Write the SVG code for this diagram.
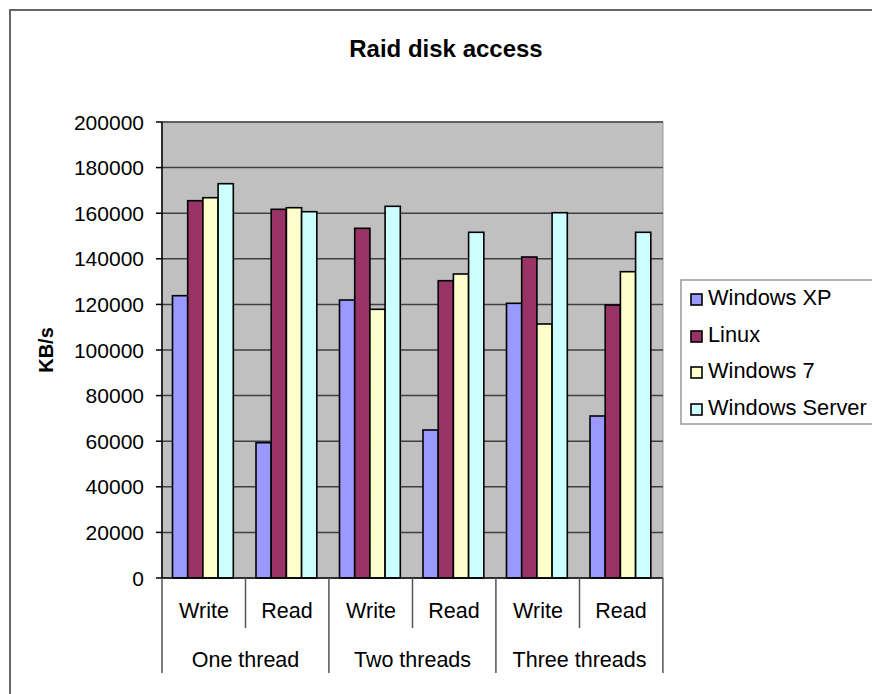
<svg xmlns="http://www.w3.org/2000/svg" width="872" height="694" viewBox="0 0 872 694">
<style>
text{font-family:"Liberation Sans",Arial,sans-serif;fill:#000}
.yl{font-size:21px;text-anchor:end}
.cl{font-size:21.5px;text-anchor:middle}
.lg{font-size:21.8px}
.grid{stroke:#404040;stroke-width:1.5}
.bar{stroke:#000;stroke-width:1.6}
.xp{fill:#9999FF}.lx{fill:#993366}.w7{fill:#FFFFCC}.sv{fill:#CCFFFF}
.tick{stroke:#555;stroke-width:1.5}
</style>
<rect x="0" y="0" width="872" height="694" fill="#fff"/>
<rect x="10" y="10" width="900" height="720" fill="#fff" stroke="#666" stroke-width="2"/>
<text id="title" x="446" y="57" font-size="24" font-weight="bold" text-anchor="middle">Raid disk access</text>
<g id="plot">
<rect x="162" y="122" width="501" height="456" fill="#C0C0C0" stroke="#999" stroke-width="1"/>
<g id="gridlines">
<line class="grid" x1="162" y1="122" x2="663" y2="122"/>
<line class="grid" x1="162" y1="167.6" x2="663" y2="167.6"/>
<line class="grid" x1="162" y1="213.2" x2="663" y2="213.2"/>
<line class="grid" x1="162" y1="258.8" x2="663" y2="258.8"/>
<line class="grid" x1="162" y1="304.4" x2="663" y2="304.4"/>
<line class="grid" x1="162" y1="350" x2="663" y2="350"/>
<line class="grid" x1="162" y1="395.6" x2="663" y2="395.6"/>
<line class="grid" x1="162" y1="441.2" x2="663" y2="441.2"/>
<line class="grid" x1="162" y1="486.8" x2="663" y2="486.8"/>
<line class="grid" x1="162" y1="532.4" x2="663" y2="532.4"/>
</g>
</g>
<g id="bars">
<g id="one-write">
<rect class="bar xp" x="172.5" y="295.7" width="15.2" height="282.3"/>
<rect class="bar lx" x="187.7" y="200.7" width="15.2" height="377.3"/>
<rect class="bar w7" x="202.9" y="197.7" width="15.2" height="380.3"/>
<rect class="bar sv" x="218.1" y="183.7" width="15.2" height="394.3"/>
</g>
<g id="one-read">
<rect class="bar xp" x="256" y="442.7" width="15.2" height="135.3"/>
<rect class="bar lx" x="271.2" y="209.3" width="15.2" height="368.7"/>
<rect class="bar w7" x="286.4" y="207.7" width="15.2" height="370.3"/>
<rect class="bar sv" x="301.6" y="211.7" width="15.2" height="366.3"/>
</g>
<g id="two-write">
<rect class="bar xp" x="339.5" y="300" width="15.2" height="278"/>
<rect class="bar lx" x="354.7" y="228.3" width="15.2" height="349.7"/>
<rect class="bar w7" x="369.9" y="309.3" width="15.2" height="268.7"/>
<rect class="bar sv" x="385.1" y="206.3" width="15.2" height="371.7"/>
</g>
<g id="two-read">
<rect class="bar xp" x="423" y="430" width="15.2" height="148"/>
<rect class="bar lx" x="438.2" y="280.7" width="15.2" height="297.3"/>
<rect class="bar w7" x="453.4" y="274" width="15.2" height="304"/>
<rect class="bar sv" x="468.6" y="232.3" width="15.2" height="345.7"/>
</g>
<g id="three-write">
<rect class="bar xp" x="506.5" y="303.3" width="15.2" height="274.7"/>
<rect class="bar lx" x="521.7" y="257" width="15.2" height="321"/>
<rect class="bar w7" x="536.9" y="324" width="15.2" height="254"/>
<rect class="bar sv" x="552.1" y="212.7" width="15.2" height="365.3"/>
</g>
<g id="three-read">
<rect class="bar xp" x="590" y="416" width="15.2" height="162"/>
<rect class="bar lx" x="605.2" y="305" width="15.2" height="273"/>
<rect class="bar w7" x="620.4" y="271.7" width="15.2" height="306.3"/>
<rect class="bar sv" x="635.6" y="232.3" width="15.2" height="345.7"/>
</g>
</g>
<g id="axes">
<line x1="162" y1="122" x2="162" y2="578" stroke="#000" stroke-width="1.5"/>
<line x1="156" y1="578" x2="663" y2="578" stroke="#000" stroke-width="1.5"/>
<g stroke="#000" stroke-width="1.5">
<line x1="156" y1="122" x2="162" y2="122"/>
<line x1="156" y1="167.6" x2="162" y2="167.6"/>
<line x1="156" y1="213.2" x2="162" y2="213.2"/>
<line x1="156" y1="258.8" x2="162" y2="258.8"/>
<line x1="156" y1="304.4" x2="162" y2="304.4"/>
<line x1="156" y1="350" x2="162" y2="350"/>
<line x1="156" y1="395.6" x2="162" y2="395.6"/>
<line x1="156" y1="441.2" x2="162" y2="441.2"/>
<line x1="156" y1="486.8" x2="162" y2="486.8"/>
<line x1="156" y1="532.4" x2="162" y2="532.4"/>
</g>
<line class="tick" x1="162" y1="578" x2="162" y2="673"/>
<line class="tick" x1="328.9" y1="578" x2="328.9" y2="673"/>
<line class="tick" x1="495.9" y1="578" x2="495.9" y2="673"/>
<line class="tick" x1="662.9" y1="578" x2="662.9" y2="673"/>
<line class="tick" x1="245.5" y1="578" x2="245.5" y2="628"/>
<line class="tick" x1="412.5" y1="578" x2="412.5" y2="628"/>
<line class="tick" x1="579.5" y1="578" x2="579.5" y2="628"/>
</g>
<g id="y-labels">
<text class="yl" x="144" y="129.5">200000</text>
<text class="yl" x="144" y="175.1">180000</text>
<text class="yl" x="144" y="220.7">160000</text>
<text class="yl" x="144" y="266.3">140000</text>
<text class="yl" x="144" y="311.9">120000</text>
<text class="yl" x="144" y="357.5">100000</text>
<text class="yl" x="144" y="403.1">80000</text>
<text class="yl" x="144" y="448.7">60000</text>
<text class="yl" x="144" y="494.3">40000</text>
<text class="yl" x="144" y="539.9">20000</text>
<text class="yl" x="144" y="585.5">0</text>
<text x="0" y="0" font-size="20" font-weight="bold" text-anchor="middle" transform="translate(53 350) rotate(-90)">KB/s</text>
</g>
<g id="x-labels">
<text class="cl" x="204" y="618">Write</text>
<text class="cl" x="287" y="618">Read</text>
<text class="cl" x="371" y="618">Write</text>
<text class="cl" x="454" y="618">Read</text>
<text class="cl" x="538" y="618">Write</text>
<text class="cl" x="621" y="618">Read</text>
<text class="cl" x="245.5" y="667">One thread</text>
<text class="cl" x="412.5" y="667">Two threads</text>
<text class="cl" x="579.5" y="667">Three threads</text>
</g>
<g id="legend">
<rect x="681" y="280" width="200" height="144" fill="#fff" stroke="#999" stroke-width="1.5"/>
<rect class="bar xp" x="691" y="294" width="11" height="11" stroke-width="1.2"/>
<rect class="bar lx" x="691" y="331" width="11" height="11" stroke-width="1.2"/>
<rect class="bar w7" x="691" y="367" width="11" height="11" stroke-width="1.2"/>
<rect class="bar sv" x="691" y="404" width="11" height="11" stroke-width="1.2"/>
<text class="lg" x="708" y="304.5">Windows XP</text>
<text class="lg" x="708" y="341.5">Linux</text>
<text class="lg" x="708" y="378">Windows 7</text>
<text class="lg" x="708" y="415">Windows Server</text>
</g>
</svg>
